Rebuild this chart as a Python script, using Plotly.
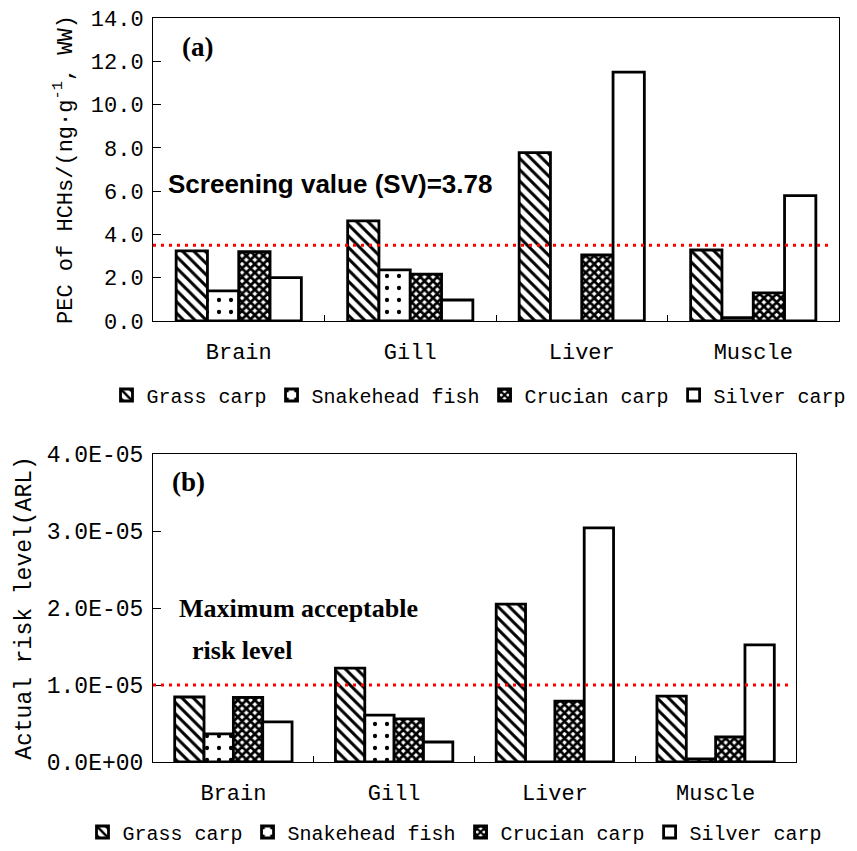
import plotly.graph_objects as go

W, H = 857, 851

tissues = ["Brain", "Gill", "Liver", "Muscle"]
species = ["Grass carp", "Snakehead fish", "Crucian carp", "Silver carp"]

# Panel (a): PEC of HCHs (ng/g WW)
pec_grass = [3.24, 4.63, 7.78, 3.28]
pec_snakehead = [1.39, 2.36, 0.0, 0.15]
pec_crucian = [3.20, 2.17, 3.05, 1.30]
pec_silver = [2.00, 0.97, 11.5, 5.79]
sv_line = 3.5

# Panel (b): Actual risk level (ARL)
arl_grass = [0.844e-5, 1.22e-5, 2.05e-5, 0.855e-5]
arl_snakehead = [0.364e-5, 0.61e-5, 0.0, 0.04e-5]
arl_crucian = [0.84e-5, 0.56e-5, 0.79e-5, 0.325e-5]
arl_silver = [0.52e-5, 0.26e-5, 3.04e-5, 1.52e-5]
mar_line = 1.0e-5

a_ticks = [0, 2, 4, 6, 8, 10, 12, 14]
b_tickvals = [0, 1e-5, 2e-5, 3e-5, 4e-5]
b_ticktext = ["0.0E+00", "1.0E-05", "2.0E-05", "3.0E-05", "4.0E-05"]

MONO = "Liberation Mono"
patterns = [
    dict(shape="\\", fgcolor="black", bgcolor="white", size=8, solidity=0.38, fgopacity=1),
    dict(shape=".", fgcolor="black", bgcolor="white", size=12, solidity=0.1, fgopacity=1),
    dict(shape="x", fgcolor="black", bgcolor="white", size=6, solidity=0.7, fgopacity=1),
    dict(shape="", fgcolor="black", bgcolor="white"),
]

fig = go.Figure()
series_a = [pec_grass, pec_snakehead, pec_crucian, pec_silver]
series_b = [arl_grass, arl_snakehead, arl_crucian, arl_silver]
for name, vals, pat in zip(species, series_a, patterns):
    fig.add_trace(go.Bar(x=tissues, y=vals, name=name, xaxis="x", yaxis="y",
                         marker=dict(color="white", pattern=pat,
                                     line=dict(color="black", width=2.8)),
                         legend="legend"))
for name, vals, pat in zip(species, series_b, patterns):
    fig.add_trace(go.Bar(x=tissues, y=vals, name=name, xaxis="x2", yaxis="y2",
                         marker=dict(color="white", pattern=pat,
                                     line=dict(color="black", width=2.8)),
                         legend="legend2"))

def px_x(p):
    return p / W

def px_y(p):
    return 1 - p / H

xcommon = dict(type="category", showline=True, linecolor="black", linewidth=1,
               mirror=True, ticks="inside", ticklen=6, tickcolor="black",
               tickson="boundaries", showgrid=False, ticklabelstandoff=11,
               tickfont=dict(family=MONO, size=22, color="black"))
ycommon = dict(showline=True, linecolor="black", linewidth=1, mirror=True,
               ticks="inside", ticklen=8, tickcolor="black", showgrid=False,
               zeroline=False, ticklabelstandoff=4)

fig.update_layout(
    width=W, height=H, margin=dict(l=0, r=0, t=0, b=0, autoexpand=False),
    paper_bgcolor="white", plot_bgcolor="white",
    barmode="group", bargap=0.27, bargroupgap=0,
    xaxis=dict(domain=[px_x(153), px_x(839)], anchor="y", **xcommon),
    yaxis=dict(domain=[px_y(321), px_y(18)], anchor="x", range=[0, 14],
               tickvals=a_ticks, tickformat=".1f",
               tickfont=dict(family=MONO, size=22, color="black"),
               title=dict(text="PEC of HCHs/(ng·g<sup>-1</sup>, WW)", standoff=12,
                          font=dict(family=MONO, size=22, color="black")),
               **ycommon),
    xaxis2=dict(domain=[px_x(153), px_x(796)], anchor="y2", **xcommon),
    yaxis2=dict(domain=[px_y(762), px_y(454)], anchor="x2", range=[0, 4e-5],
                tickvals=b_tickvals, ticktext=b_ticktext,
                tickfont=dict(family=MONO, size=23, color="black"),
                title=dict(text="Actual risk level(ARL)", standoff=8,
                           font=dict(family=MONO, size=23, color="black")),
                **ycommon),
    legend=dict(orientation="h", x=px_x(479), y=px_y(395), xanchor="center",
                yanchor="middle", font=dict(family=MONO, size=20, color="black"),
                bgcolor="rgba(0,0,0,0)", itemwidth=30, traceorder="normal"),
    legend2=dict(orientation="h", x=px_x(455), y=px_y(832), xanchor="center",
                 yanchor="middle", font=dict(family=MONO, size=20, color="black"),
                 bgcolor="rgba(0,0,0,0)", itemwidth=30, traceorder="normal"),
)

fig.add_shape(type="line", xref="x domain", yref="y", x0=0, x1=0.987,
              y0=sv_line, y1=sv_line, line=dict(color="#ff0000", width=3, dash="3px,5px"))
fig.add_shape(type="line", xref="x2 domain", yref="y2", x0=0, x1=0.988,
              y0=mar_line, y1=mar_line, line=dict(color="#ff0000", width=3, dash="3px,5px"))

ann = [
    ("(a)", 180, 47, "Liberation Serif", 27),
    ("Screening value (SV)=3.78", 166, 184, "Liberation Sans", 26),
    ("(b)", 170, 482, "Liberation Serif", 27),
    ("Maximum acceptable", 177, 608, "Liberation Serif", 26),
    ("risk level", 190, 650, "Liberation Serif", 26),
]
for text, x, y, fam, sz in ann:
    fig.add_annotation(text="<b>%s</b>" % text, xref="paper", yref="paper",
                       x=px_x(x), y=px_y(y), xanchor="left", yanchor="middle",
                       showarrow=False, font=dict(family=fam, size=sz, color="black"))

fig.write_html("out.html")
